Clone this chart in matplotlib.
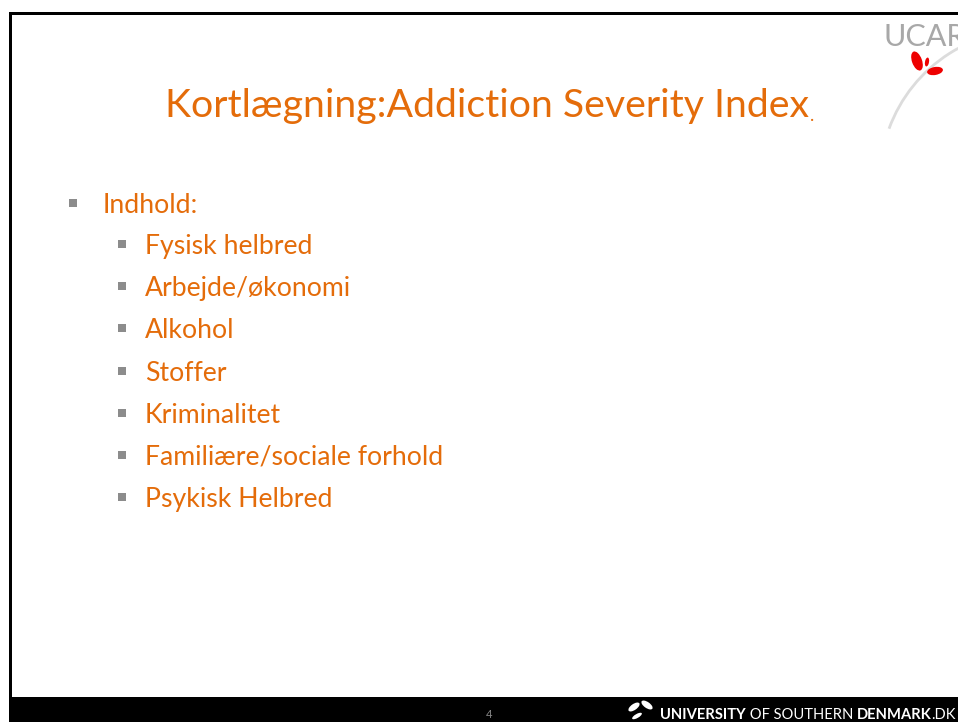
import matplotlib
matplotlib.use("Agg")
import matplotlib.pyplot as plt
from matplotlib.patches import Rectangle, Ellipse, Arc

title = "Kortlægning:Addiction Severity Index"
level1 = ["Indhold:"]
level2 = ["Fysisk helbred", "Arbejde/økonomi", "Alkohol", "Stoffer",
          "Kriminalitet", "Familiære/sociale forhold", "Psykisk Helbred"]
page_number = "4"
footer_parts = [("UNIVERSITY", "bold"), (" OF SOUTHERN ", "normal"),
                ("DENMARK", "bold"), (".DK", "normal")]

ORANGE = "#E46C0A"
GRAY = "#8C8C8C"
FONT = ["Lato", "DejaVu Sans"]

W, H = 958, 722
fig = plt.figure(figsize=(W / 100, H / 100), dpi=100)
ax = fig.add_axes([0, 0, 1, 1])
ax.set_xlim(0, W)
ax.set_ylim(H, 0)
ax.axis("off")

# slide frame
ax.add_patch(Rectangle((9, 12), W, 3, color="black", lw=0))
ax.add_patch(Rectangle((9, 12), 3, H, color="black", lw=0))
ax.add_patch(Rectangle((9, 697), W, 30, color="black", lw=0))

# UCAR logo (top-right)
ax.add_patch(Arc((1030, 180), 300, 300, theta1=200, theta2=275,
                 color="#dcdcdc", lw=2))
ax.text(884, 46, "UCAR", fontsize=22, color="#a8a8a8", family=FONT,
        va="baseline", ha="left", clip_on=True)
ax.add_patch(Ellipse((917, 61), 10, 20, angle=-20, color="#ee0000", lw=0))
ax.add_patch(Ellipse((927, 62), 4, 9, angle=10, color="#ee0000", lw=0))
ax.add_patch(Ellipse((935, 71), 16, 8, angle=-10, color="#ee0000", lw=0))

# Title
t = ax.text(487, 117, title, fontsize=28.3, color=ORANGE, family=FONT,
            ha="center", va="baseline")
ax.annotate(".", xy=(1, 0), xycoords=t, xytext=(1, 0), textcoords="offset points",
            fontsize=13, color=ORANGE, family=FONT, va="bottom", ha="left")

# Bullets
y = 204
for s in level1:
    ax.add_patch(Rectangle((69, y - 5), 8, 8, color=GRAY, lw=0))
    ax.text(103, y + 9, s, fontsize=19.2, color=ORANGE, family=FONT, va="baseline")
    y += 41
for s in level2:
    ax.add_patch(Rectangle((118, y - 5), 8, 8, color=GRAY, lw=0))
    ax.text(145, y + 9, s, fontsize=19.2, color=ORANGE, family=FONT, va="baseline")
    y += 42.2

# Footer
ax.text(489, 715, page_number, fontsize=8, color="#888888", family=FONT,
        ha="center", va="center")
# SDU mark
ax.add_patch(Ellipse((634, 707), 13, 6, angle=-35, color="white", lw=0))
ax.add_patch(Ellipse((647, 705), 13, 6, angle=35, color="white", lw=0))
ax.add_patch(Ellipse((637, 716), 11, 4, angle=-30, color="white", lw=0))
prev = None
for s, w in footer_parts:
    if prev is None:
        prev = ax.text(660, 719, s, fontsize=10.6, color="white", family=FONT,
                       fontweight=w, va="baseline", ha="left")
    else:
        prev = ax.annotate(s, xy=(1, 0), xycoords=prev, xytext=(0, 0),
                           textcoords="offset points", fontsize=10.6, color="white",
                           family=FONT, fontweight=w, va="bottom", ha="left")

fig.savefig("out.png", dpi=100)
